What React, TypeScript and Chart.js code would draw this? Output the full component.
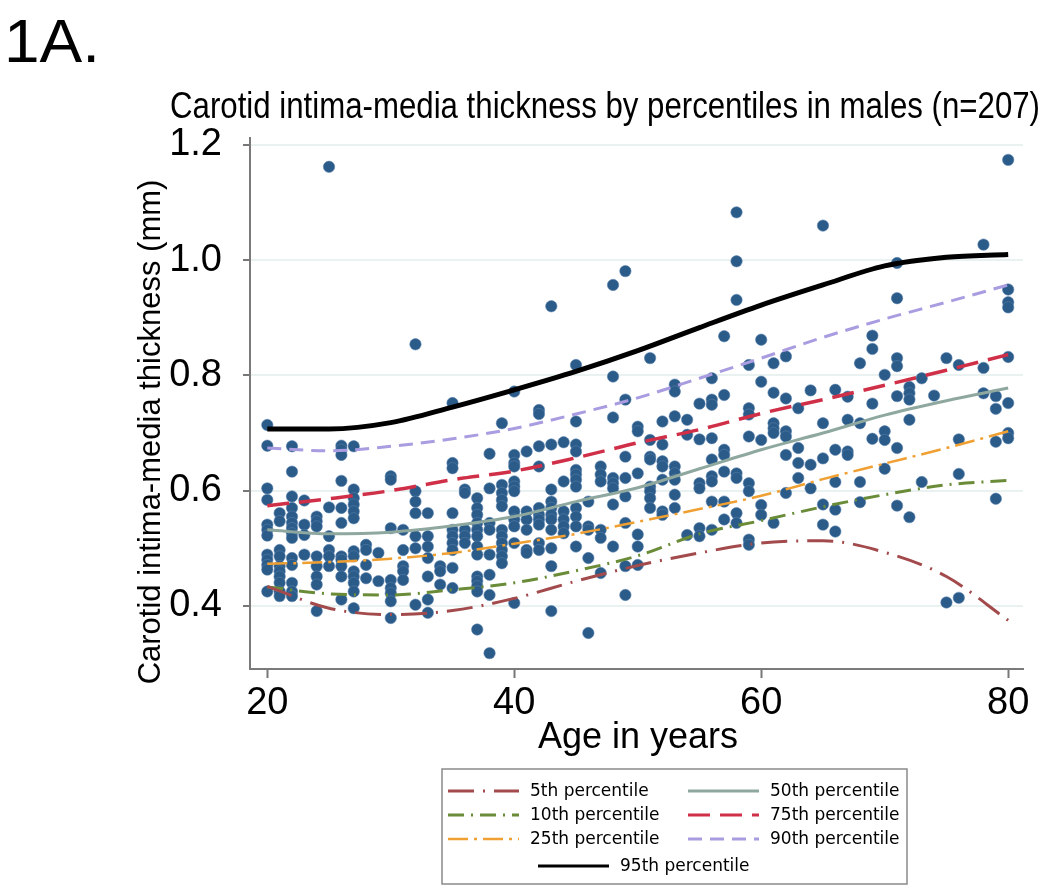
import React, { useEffect, useRef } from 'react';
import { Chart, registerables } from 'chart.js';

Chart.register(...registerables);

// ---------- DATA ----------
const panelLabel = '1A.';
const chartTitle = 'Carotid intima-media thickness by percentiles in males (n=207)';
const xTitle = 'Age in years';
const yTitle = 'Carotid intima-media thickness (mm)';

const xTicks = [20, 40, 60, 80];
const yTicks = [0.4, 0.6, 0.8, 1.0, 1.2];

const lineAges = [20, 25, 30, 35, 40, 45, 50, 55, 60, 65, 70, 75, 80];
const p5 = [0.434, 0.396, 0.385, 0.392, 0.413, 0.443, 0.470, 0.492, 0.509, 0.513, 0.493, 0.451, 0.375];
const p10 = [0.433, 0.421, 0.419, 0.428, 0.440, 0.461, 0.487, 0.525, 0.548, 0.572, 0.593, 0.610, 0.618];
const p25 = [0.473, 0.476, 0.482, 0.492, 0.508, 0.525, 0.546, 0.568, 0.591, 0.620, 0.647, 0.674, 0.703];
const p50 = [0.532, 0.525, 0.528, 0.539, 0.555, 0.581, 0.605, 0.638, 0.671, 0.700, 0.731, 0.756, 0.778];
const p75 = [0.574, 0.586, 0.600, 0.619, 0.634, 0.657, 0.683, 0.706, 0.734, 0.758, 0.783, 0.809, 0.836];
const p90 = [0.674, 0.669, 0.677, 0.690, 0.708, 0.733, 0.761, 0.795, 0.830, 0.866, 0.898, 0.927, 0.957];
const p95 = [0.707, 0.707, 0.718, 0.745, 0.775, 0.807, 0.843, 0.883, 0.922, 0.957, 0.990, 1.005, 1.010];

// observed values, grouped by age (years) -> CIMT (mm)
const observedByAge: [number, number[]][] = [
  [20, [0.714, 0.678, 0.604, 0.584, 0.541, 0.532, 0.522, 0.489, 0.480, 0.471, 0.463, 0.425]],
  [21, [0.561, 0.547, 0.497, 0.486, 0.469, 0.460, 0.451, 0.440, 0.425, 0.417]],
  [22, [0.677, 0.633, 0.590, 0.570, 0.555, 0.544, 0.535, 0.526, 0.518, 0.483, 0.471, 0.440, 0.425, 0.417]],
  [23, [0.583, 0.541, 0.523, 0.489]],
  [24, [0.555, 0.547, 0.538, 0.486, 0.469, 0.451, 0.437, 0.391]],
  [25, [1.162, 0.571, 0.521, 0.497, 0.486, 0.469]],
  [26, [0.678, 0.671, 0.662, 0.617, 0.570, 0.544, 0.486, 0.480, 0.469, 0.451, 0.411]],
  [27, [0.677, 0.602, 0.587, 0.576, 0.564, 0.552, 0.495, 0.486, 0.460, 0.451, 0.440, 0.425, 0.396]],
  [28, [0.506, 0.497, 0.471, 0.448]],
  [29, [0.492, 0.443]],
  [30, [0.625, 0.619, 0.535, 0.445, 0.431, 0.422, 0.408, 0.379]],
  [31, [0.532, 0.497, 0.469, 0.460, 0.445]],
  [32, [0.854, 0.599, 0.581, 0.561, 0.521, 0.500, 0.402]],
  [33, [0.561, 0.521, 0.503, 0.483, 0.451, 0.411, 0.388]],
  [34, [0.469, 0.460, 0.437]],
  [35, [0.752, 0.648, 0.639, 0.561, 0.532, 0.521, 0.509, 0.497, 0.466, 0.431]],
  [36, [0.602, 0.596, 0.532, 0.521, 0.509]],
  [37, [0.587, 0.570, 0.558, 0.544, 0.532, 0.521, 0.503, 0.489, 0.451, 0.443, 0.434, 0.425, 0.359]],
  [38, [0.664, 0.604, 0.544, 0.532, 0.489, 0.454, 0.419, 0.318]],
  [39, [0.717, 0.610, 0.596, 0.584, 0.573, 0.532, 0.521, 0.509, 0.497, 0.486, 0.474]],
  [40, [0.772, 0.662, 0.648, 0.642, 0.616, 0.607, 0.599, 0.564, 0.550, 0.538, 0.509, 0.405]],
  [41, [0.668, 0.564, 0.550, 0.532, 0.497, 0.492]],
  [42, [0.740, 0.733, 0.677, 0.642, 0.570, 0.558, 0.550, 0.541, 0.509, 0.497]],
  [43, [0.920, 0.680, 0.602, 0.581, 0.570, 0.558, 0.550, 0.532, 0.500, 0.469, 0.391]],
  [44, [0.684, 0.616, 0.564, 0.550, 0.538, 0.526]],
  [45, [0.818, 0.720, 0.680, 0.668, 0.636, 0.628, 0.619, 0.607, 0.570, 0.555, 0.538, 0.503]],
  [46, [0.581, 0.538, 0.532, 0.483, 0.353]],
  [47, [0.642, 0.628, 0.616, 0.532, 0.518, 0.457]],
  [48, [0.957, 0.798, 0.727, 0.622, 0.613, 0.604, 0.576, 0.503]],
  [49, [0.981, 0.758, 0.659, 0.622, 0.590, 0.544, 0.469, 0.419]],
  [50, [0.711, 0.703, 0.630, 0.524, 0.503, 0.471]],
  [51, [0.830, 0.688, 0.659, 0.654, 0.607, 0.599, 0.587, 0.570]],
  [52, [0.720, 0.680, 0.651, 0.642, 0.619, 0.564, 0.558]],
  [53, [0.784, 0.772, 0.729, 0.642, 0.630, 0.619, 0.593, 0.570]],
  [54, [0.723, 0.697, 0.523]],
  [55, [0.751, 0.689, 0.613, 0.604, 0.535, 0.521]],
  [56, [0.795, 0.758, 0.749, 0.691, 0.654, 0.625, 0.616, 0.581, 0.532]],
  [57, [0.868, 0.766, 0.671, 0.662, 0.633, 0.581, 0.550]],
  [58, [1.083, 0.998, 0.931, 0.630, 0.622, 0.561, 0.544]],
  [59, [0.818, 0.743, 0.732, 0.694, 0.613, 0.599, 0.515, 0.506]],
  [60, [0.862, 0.789, 0.688, 0.575, 0.558]],
  [61, [0.821, 0.770, 0.717, 0.708, 0.700, 0.544]],
  [62, [0.833, 0.760, 0.703, 0.694, 0.662, 0.596]],
  [63, [0.743, 0.674, 0.648, 0.622]],
  [64, [0.774, 0.645, 0.604]],
  [65, [1.060, 0.717, 0.656, 0.576, 0.541]],
  [66, [0.775, 0.671, 0.615, 0.567, 0.529]],
  [67, [0.763, 0.723, 0.668, 0.662]],
  [68, [0.821, 0.717, 0.615, 0.580]],
  [69, [0.869, 0.846, 0.751, 0.690]],
  [70, [0.801, 0.703, 0.688, 0.638]],
  [71, [0.995, 0.934, 0.830, 0.816, 0.764, 0.674, 0.574]],
  [72, [0.780, 0.769, 0.758, 0.723, 0.554]],
  [73, [0.795, 0.615]],
  [74, [0.765]],
  [75, [0.830, 0.406]],
  [76, [0.818, 0.689, 0.629, 0.414]],
  [78, [1.027, 0.813, 0.769]],
  [79, [0.764, 0.742, 0.685, 0.586]],
  [80, [1.174, 0.949, 0.927, 0.918, 0.832, 0.752, 0.700, 0.691]],
];

// ---------- STYLES ----------
type SeriesStyle = { label: string; values: number[]; color: string; width: number; dash: number[]; order: number };
const percentileSeries: SeriesStyle[] = [
  { label: '5th percentile', values: p5, color: '#a34a4c', width: 3, dash: [26, 9, 2, 9], order: 1 },
  { label: '10th percentile', values: p10, color: '#6a8c38', width: 3, dash: [16, 7, 2, 7], order: 1 },
  { label: '25th percentile', values: p25, color: '#f0a033', width: 2.5, dash: [20, 6, 3, 6], order: 1 },
  { label: '50th percentile', values: p50, color: '#8fa89f', width: 3, dash: [], order: 1 },
  { label: '75th percentile', values: p75, color: '#d02f48', width: 3.5, dash: [22, 10], order: 1 },
  { label: '90th percentile', values: p90, color: '#a99ce0', width: 3, dash: [14, 8], order: 1 },
  { label: '95th percentile', values: p95, color: '#000000', width: 5, dash: [], order: 0 },
];

const SANS = "'Liberation Sans', Arial, Helvetica, sans-serif";

const decorPlugin = {
  id: 'decor',
  afterDraw(chart: any) {
    const ctx: CanvasRenderingContext2D = chart.ctx;
    ctx.save();
    ctx.fillStyle = '#000';
    ctx.textAlign = 'left';
    ctx.textBaseline = 'alphabetic';

    // panel label (narrow, Calibri-like proportions)
    ctx.font = `62px ${SANS}`;
    const lw = ctx.measureText(panelLabel).width;
    ctx.save();
    ctx.translate(4, 62);
    ctx.scale(96 / lw, 1);
    ctx.fillText(panelLabel, 0, 0);
    ctx.restore();

    // chart title, condensed to its printed width
    ctx.font = `36px ${SANS}`;
    const tw = ctx.measureText(chartTitle).width;
    ctx.save();
    ctx.translate(605, 118);
    ctx.scale(870 / tw, 1);
    ctx.textAlign = 'center';
    ctx.fillText(chartTitle, 0, 0);
    ctx.restore();

    // axis titles
    ctx.textAlign = 'center';
    ctx.font = `36px ${SANS}`;
    ctx.textBaseline = 'middle';
    ctx.fillText(xTitle, 638, 738);
    ctx.save();
    ctx.translate(151, 432);
    ctx.rotate(-Math.PI / 2);
    ctx.font = `31px ${SANS}`;
    ctx.fillText(yTitle, 0, 0);
    ctx.restore();

    // legend box
    const bx = 442, by = 769, bw = 465, bh = 115;
    ctx.strokeStyle = '#8a8a8a';
    ctx.lineWidth = 1.5;
    ctx.strokeRect(bx, by, bw, bh);
    const slots = [
      [448, 791], [448, 815], [448, 839],
      [688, 791], [688, 815], [688, 839],
      [538, 866],
    ];
    ctx.font = `17px 'DejaVu Sans', Verdana, sans-serif`;
    ctx.textAlign = 'left';
    ctx.textBaseline = 'middle';
    percentileSeries.forEach((s, i) => {
      const [sx, sy] = slots[i];
      ctx.save();
      ctx.strokeStyle = s.color;
      ctx.lineWidth = Math.min(s.width, 3);
      ctx.setLineDash(s.dash);
      ctx.beginPath();
      ctx.moveTo(sx, sy);
      ctx.lineTo(sx + 71, sy);
      ctx.stroke();
      ctx.restore();
      ctx.fillStyle = '#000';
      ctx.fillText(s.label, sx + 82, sy + 1);
    });
    ctx.restore();
  },
};

export default function App() {
  const canvasRef = useRef<HTMLCanvasElement | null>(null);

  useEffect(() => {
    const canvas = canvasRef.current;
    if (!canvas) return;

    const points: { x: number; y: number }[] = [];
    observedByAge.forEach(([age, vals]) => vals.forEach((v) => points.push({ x: age, y: v })));

    const lineDatasets = percentileSeries.map((s) => ({
      label: s.label,
      data: lineAges.map((a, i) => ({ x: a, y: s.values[i] })),
      showLine: true,
      borderColor: s.color,
      backgroundColor: s.color,
      borderWidth: s.width,
      borderDash: s.dash,
      pointRadius: 0,
      cubicInterpolationMode: 'monotone' as const,
      fill: false,
      order: s.order,
    }));

    const chart = new Chart(canvas, {
      type: 'scatter',
      data: {
        datasets: [
          ...lineDatasets,
          {
            label: 'Observed',
            data: points,
            showLine: false,
            backgroundColor: '#2b5b88',
            borderColor: 'rgba(90,130,175,0.7)',
            borderWidth: 0.8,
            pointRadius: 5.7,
            order: 2,
          } as any,
        ],
      },
      options: {
        responsive: false,
        maintainAspectRatio: false,
        devicePixelRatio: 1,
        animation: false,
        layout: { padding: { top: 138, left: 130, right: 27, bottom: 0 } },
        plugins: {
          legend: { display: false },
          tooltip: { enabled: false },
          title: { display: false },
        },
        scales: {
          x: {
            type: 'linear',
            min: 18.6,
            max: 81.2,
            afterBuildTicks: (scale: any) => {
              scale.ticks = xTicks.map((v) => ({ value: v }));
            },
            afterFit: (scale: any) => {
              scale.height = 223;
            },
            ticks: {
              color: '#000',
              font: { family: SANS, size: 38 },
              padding: 3,
              maxRotation: 0,
              callback: (v: any) => String(v),
            },
            grid: {
              drawOnChartArea: false,
              drawTicks: true,
              tickLength: 9,
              tickColor: '#777',
              tickWidth: 2,
            },
            border: { display: true, color: '#7a7a7a', width: 2 },
          },
          y: {
            type: 'linear',
            min: 0.2905,
            max: 1.212,
            afterBuildTicks: (scale: any) => {
              scale.ticks = yTicks.map((v) => ({ value: v }));
            },
            afterFit: (scale: any) => {
              scale.width = 120;
            },
            ticks: {
              color: '#000',
              font: { family: SANS, size: 38 },
              padding: 21,
              callback: (v: any) => Number(v).toFixed(1),
            },
            grid: {
              color: '#e9f1f1',
              lineWidth: 2,
              drawTicks: true,
              tickLength: 7,
              tickColor: '#777',
              tickWidth: 2,
            },
            border: { display: true, color: '#7a7a7a', width: 2 },
          },
        },
      },
      plugins: [decorPlugin],
    });

    return () => chart.destroy();
  }, []);

  return (
    <canvas
      ref={canvasRef}
      width={1050}
      height={892}
      style={{ position: 'absolute', left: 0, top: 0, width: 1050, height: 892, background: '#fff' }}
    />
  );
}
